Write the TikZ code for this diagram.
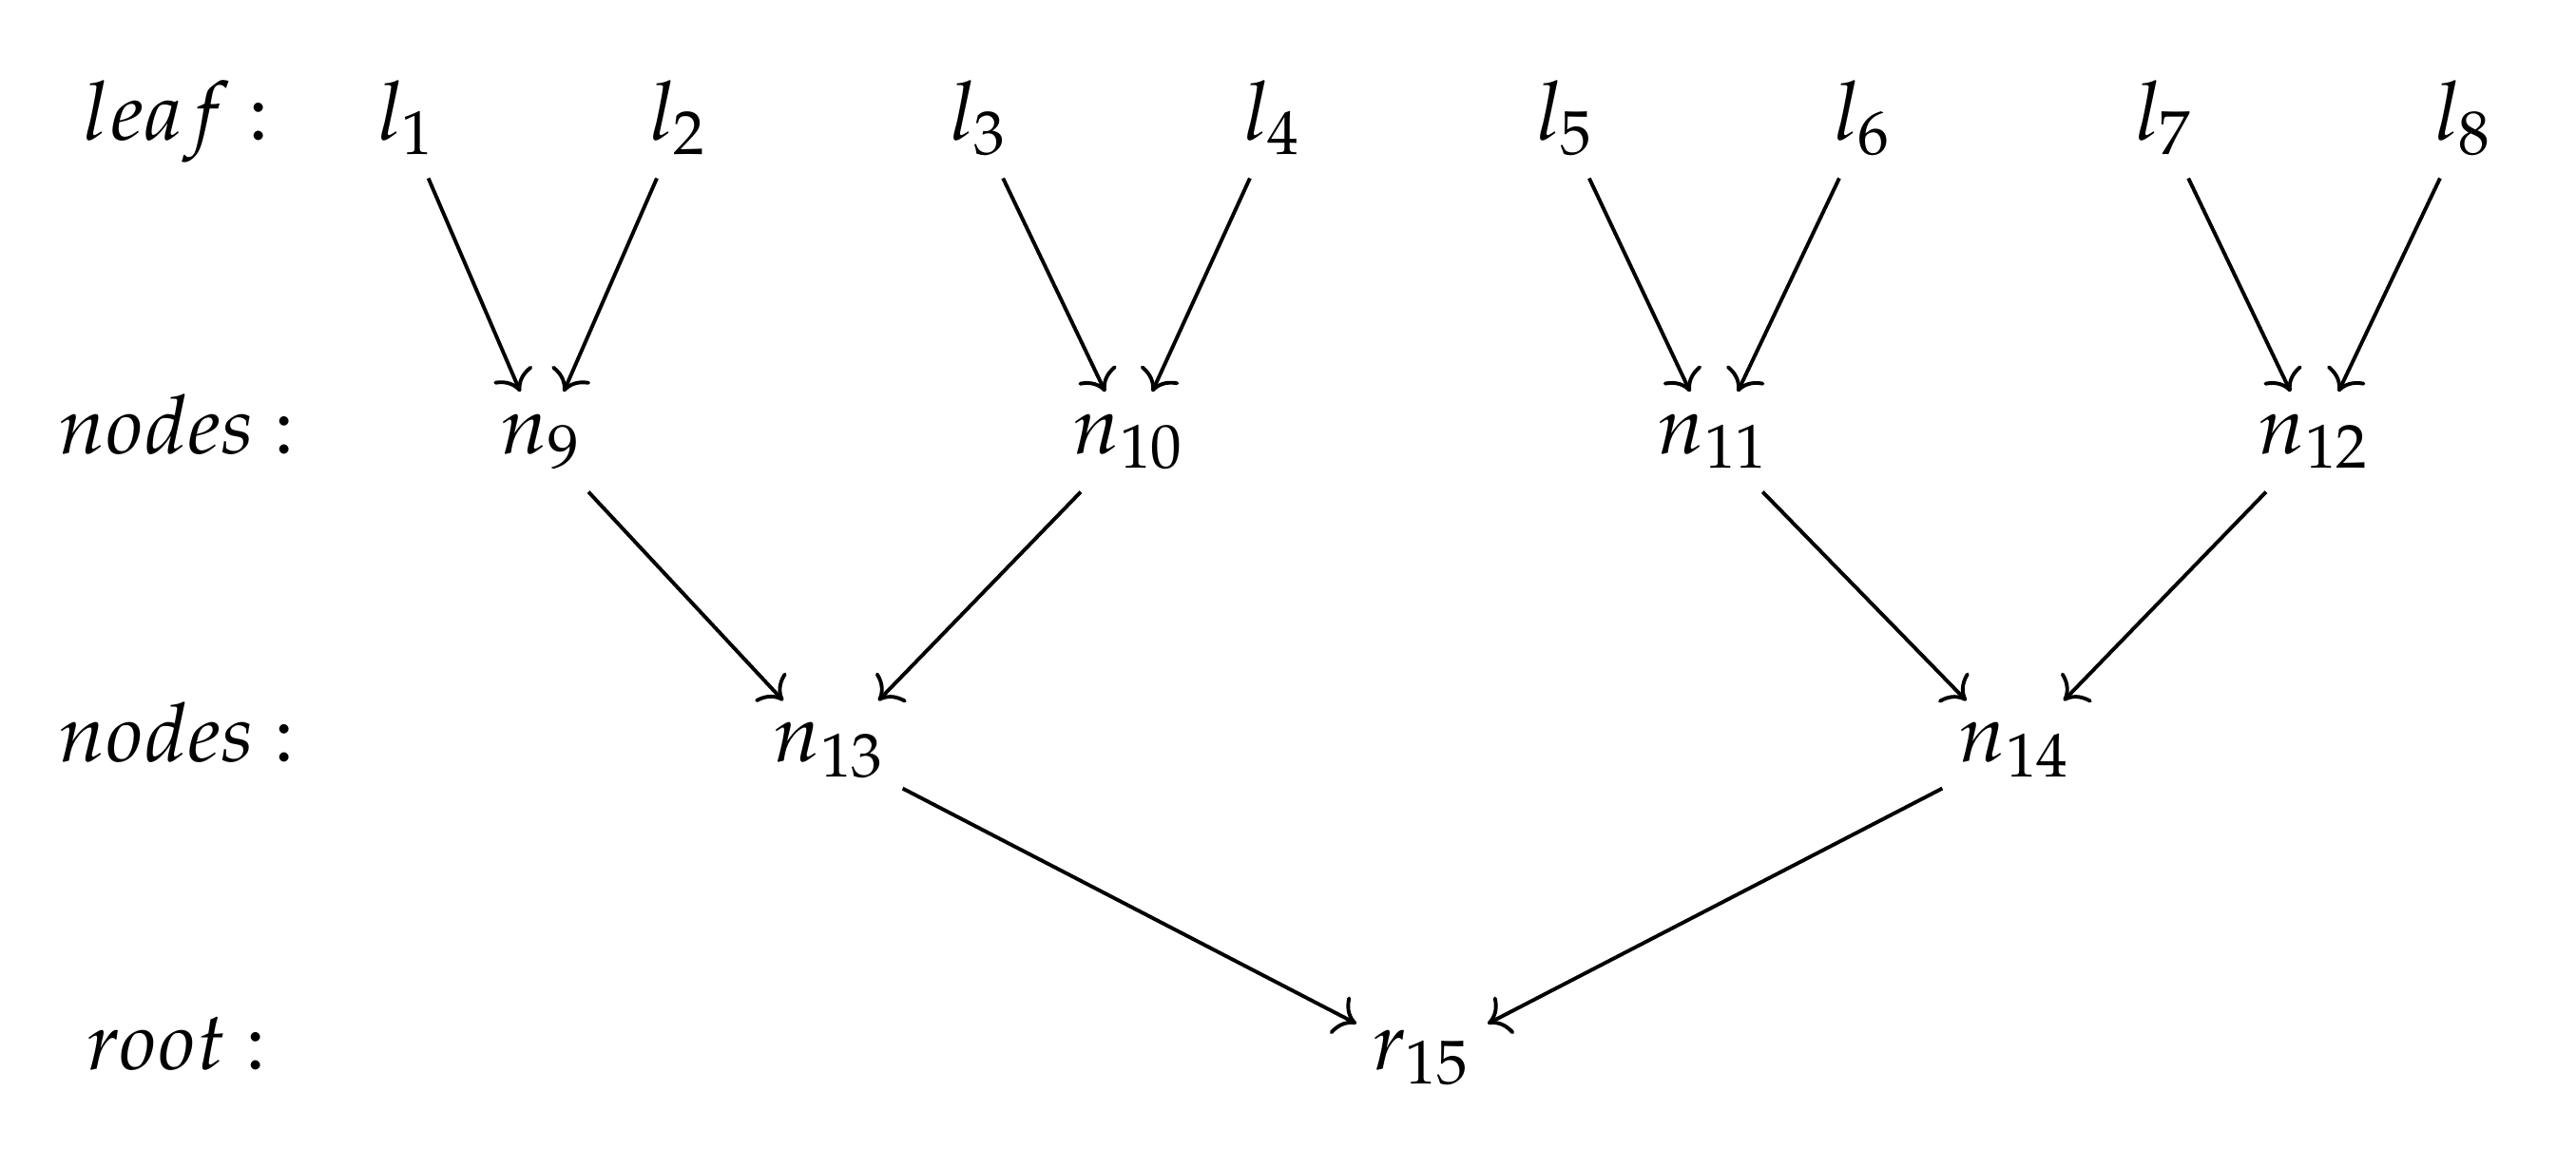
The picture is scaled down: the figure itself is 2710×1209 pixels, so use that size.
\documentclass[tikz,border=0pt]{standalone}
\usepackage{mathpazo}
\usetikzlibrary{arrows.meta}
\newcommand{\rowcolon}{\mkern4mu{:}}
\begin{document}
\begin{tikzpicture}[x=0.1282pt,y=-0.1282pt,
  cell/.style={anchor=base, inner xsep=2pt, inner ysep=2.5pt, text height=5.6pt, text depth=2.5pt, font=\fontsize{11}{13}\selectfont},
  lab/.style={anchor=base, inner sep=0pt, font=\fontsize{11}{13}\selectfont},
  arr/.style={-{Computer Modern Rightarrow}, line width=0.5pt}]
\useasboundingbox (0,0) rectangle (2710,1209);
% row labels
\node[lab] (tleaf) at (186,147) {$leaf\rowcolon$};
\node[lab] (tnodesA) at (186,477) {$nodes\rowcolon$};
\node[lab] (tnodesB) at (186,802) {$nodes\rowcolon$};
\node[lab] (troot) at (186,1125) {$root\rowcolon$};
% leaves
\node[cell] (l1) at (428,147) {$l_1$};
\node[cell] (l2) at (714,147) {$l_2$};
\node[cell] (l3) at (1030,147) {$l_3$};
\node[cell] (l4) at (1339,147) {$l_4$};
\node[cell] (l5) at (1647,147) {$l_5$};
\node[cell] (l6) at (1960,147) {$l_6$};
\node[cell] (l7) at (2277,147) {$l_7$};
\node[cell] (l8) at (2592,147) {$l_8$};
% internal nodes
\node[cell] (n9) at (570,477) {$n_9$};
\node[cell] (n10) at (1188,477) {$n_{10}$};
\node[cell] (n11) at (1803,477) {$n_{11}$};
\node[cell] (n12) at (2435,477) {$n_{12}$};
\node[cell] (n13) at (873,802) {$n_{13}$};
\node[cell] (n14) at (2120,802) {$n_{14}$};
\node[cell] (r15) at (1496,1125) {$r_{15}$};
% arrows
\draw[arr] (l1) -- (n9);
\draw[arr] (l2) -- (n9);
\draw[arr] (l3) -- (n10);
\draw[arr] (l4) -- (n10);
\draw[arr] (l5) -- (n11);
\draw[arr] (l6) -- (n11);
\draw[arr] (l7) -- (n12);
\draw[arr] (l8) -- (n12);
\draw[arr] (n9) -- (n13);
\draw[arr] (n10) -- (n13);
\draw[arr] (n11) -- (n14);
\draw[arr] (n12) -- (n14);
\draw[arr] (n13) -- (r15);
\draw[arr] (n14) -- (r15);
\end{tikzpicture}
\end{document}
